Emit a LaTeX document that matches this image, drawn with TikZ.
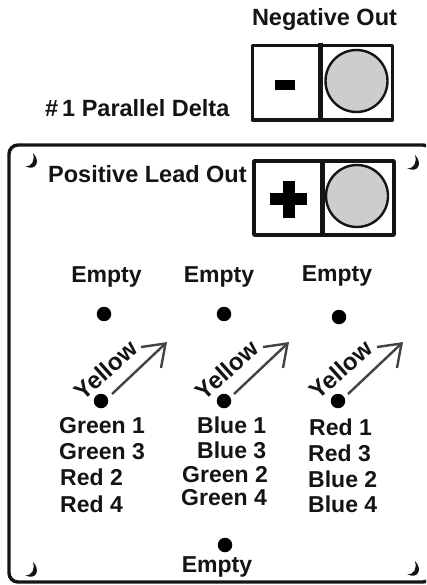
\documentclass[tikz,border=0pt]{standalone}
\usepackage{fontspec}
\setmainfont{Liberation Sans}
\definecolor{ink}{HTML}{141414}
\definecolor{disc}{HTML}{CDCDCD}
\tikzset{
  lab/.style={font=\fontsize{23}{23}\selectfont\bfseries, text=ink, inner sep=0pt, anchor=west},
  labc/.style={lab, anchor=center},
  hole/.style={circle, fill=black, inner sep=0pt, minimum size=14.5pt},
  boxline/.style={draw=ink, line width=3.6pt, fill=white, line join=round},
  divider/.style={draw=ink, line width=5pt},
  terminal/.style={circle, draw=ink, line width=2.4pt, fill=disc, inner sep=0pt, minimum size=62pt},
  frameline/.style={draw=ink, line width=3.4pt, rounded corners=9pt},
  yarrow/.style={draw=ink!80, line width=2.4pt, line join=miter},
  ylab/.style={labc, rotate=42, font=\fontsize{24}{24}\selectfont\bfseries},
  moon/.style={fill=ink, draw=none}
}
\newcommand{\crescent}[2]{%
  \fill[moon] (#1-7,#2+6) .. controls (#1,#2+7) and (#1+3,#2+1) .. (#1+1,#2-7)
    .. controls (#1+9,#2+1) and (#1+4,#2+12) .. (#1-7,#2+6) -- cycle;}
\begin{document}
\begin{tikzpicture}[x=1pt,y=-1pt]
\useasboundingbox (0,0) rectangle (426,585);
\clip (0,0) rectangle (426,585);
\fill[white] (0,0) rectangle (426,585);

% frame
\draw[frameline] (9,145) rectangle (432,582);
\crescent{32}{160}\crescent{414}{162}\crescent{32}{569}\crescent{414}{568}

% negative block
\draw[boxline] (252.5,45.5) rectangle (392.5,120);
\draw[divider] (320.5,43) -- (320.5,121);
\node[terminal] (negT) at (356.5,81) {};
\fill[black] (275,80) rectangle (295,90.5);
\node[labc, font=\fontsize{23.5}{23.5}\selectfont\bfseries] (negL) at (324.5,19.5) {Negative Out};
\node[lab, font=\fontsize{23.5}{23.5}\selectfont\bfseries] (title) at (45,108) {\#\,1 Parallel Delta};

% positive block
\draw[boxline] (254,161) rectangle (394,235);
\draw[divider] (322,159) -- (322,236);
\node[terminal] (posT) at (357,196) {};
\fill[black] (270,193.5) rectangle (307,204.5);
\fill[black] (283,181) rectangle (294.5,217.5);
\node[lab, font=\fontsize{23.5}{23.5}\selectfont\bfseries] (posL) at (48,174) {Positive Lead Out};

% Empty labels
\node[labc] (e1) at (106.5,277) {Empty};
\node[labc] (e2) at (219,277) {Empty};
\node[labc] (e3) at (337,276) {Empty};
\node[labc] (e4) at (217,567) {Empty};

% holes
\node[hole] (t1) at (104,314) {};
\node[hole] (t2) at (224,314) {};
\node[hole] (t3) at (339,317) {};
\node[hole] (m1) at (101,401) {};
\node[hole] (m2) at (224,401) {};
\node[hole] (m3) at (338,401) {};
\node[hole] (b) at (225,545) {};

% arrows
\foreach \n/\dx in {a/0,c/122,d/236}{
  \coordinate (\n s) at (112+\dx,394);
  \coordinate (\n t) at (165.5+\dx,343.5);
  \coordinate (\n u) at (141+\dx,347);
  \coordinate (\n v) at (161+\dx,368);
  \draw[yarrow] (\n s) -- (\n t);
  \draw[yarrow] (\n u) -- (\n t) -- (\n v);
}
\node[ylab] (y1) at (105.5,370) {Yellow};
\node[ylab] (y2) at (227,370) {Yellow};
\node[ylab] (y3) at (341,369.5) {Yellow};

% wire lists
\node[lab] (g1) at (59,426) {Green 1};
\node[lab] (g3) at (59,452) {Green 3};
\node[lab] (r2) at (60,477) {Red 2};
\node[lab] (r4) at (60,504) {Red 4};

\node[lab] (b1) at (197,425) {Blue 1};
\node[lab] (b3) at (197,450) {Blue 3};
\node[lab] (g2) at (182,475) {Green 2};
\node[lab] (g4) at (181,498) {Green 4};

\node[lab] (r1) at (309,427) {Red 1};
\node[lab] (r3) at (308,453) {Red 3};
\node[lab] (b2) at (308,479) {Blue 2};
\node[lab] (b4) at (308,504) {Blue 4};
\end{tikzpicture}
\end{document}
